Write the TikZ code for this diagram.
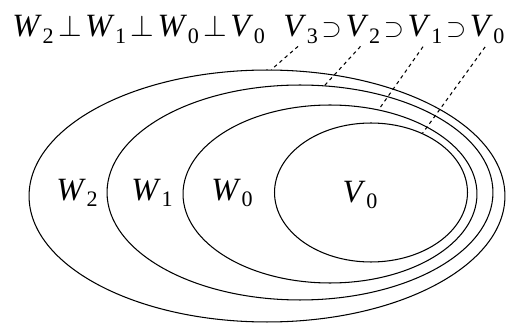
\documentclass[tikz,border=0pt]{standalone}
\usepackage{fontspec}
\setmainfont{Liberation Serif}
\usetikzlibrary{shapes.geometric, positioning}

\newcommand{\ix}[2]{\textit{#1}\kern0.02em\raisebox{-0.2em}{\scalebox{0.68}{#2}}}
\newcommand{\orth}{\kern0.14em$\perp$\kern0.1em}
\newcommand{\incl}{\scalebox{0.85}{$\supset$}}

\begin{document}
\begin{tikzpicture}[x=0.02cm, y=0.02cm, node distance=0.06cm,
  oval/.style={draw, ellipse, line width=0.6pt, inner sep=0pt},
  lab/.style={inner sep=0pt, font=\fontsize{18.5}{22}\selectfont},
  guide/.style={line width=0.6pt, dash pattern=on 2pt off 2pt, shorten <=2pt}]
  \useasboundingbox (0,0) rectangle (508,325);
  % nested spaces
  \node[oval, minimum width=9.52cm, minimum height=5.04cm] (v3) at (267,129) {};
  \node[oval, minimum width=7.72cm, minimum height=4.30cm] (v2) at (300,132.5) {};
  \node[oval, minimum width=5.88cm, minimum height=3.56cm] (v1) at (330,131) {};
  \node[oval, minimum width=3.86cm, minimum height=2.78cm] (v0) at (371,132.5) {};
  % region labels
  \node[lab] (w2) at (77,132) {\ix{W}{2}};
  \node[lab] (w1) at (152,132) {\ix{W}{1}};
  \node[lab] (w0) at (232,132) {\ix{W}{0}};
  \node[lab] (vv0) at (360,130) {\ix{V}{0}};
  % top formulas
  \node[lab, anchor=base west] (perp) at (12,288)
    {\ix{W}{2}\orth\ix{W}{1}\orth\ix{W}{0}\orth\ix{V}{0}};
  \node[lab, anchor=base west] (v3lab) at (283,288) {\ix{V}{3}};
  \node[lab, base right=of v3lab] (s1) {\incl};
  \node[lab, base right=of s1] (v2lab) {\ix{V}{2}};
  \node[lab, base right=of v2lab] (s2) {\incl};
  \node[lab, base right=of s2] (v1lab) {\ix{V}{1}};
  \node[lab, base right=of v1lab] (s3) {\incl};
  \node[lab, base right=of s3] (v0lab) {\ix{V}{0}};
  % leaders
  \draw[guide] (v3lab.south) -- (v3.88);
  \draw[guide] (v2lab.south) -- (v2.77);
  \draw[guide] (v1lab.south) -- (v1.60);
  \draw[guide] (v0lab.south) -- (v0.49);
\end{tikzpicture}
\end{document}
